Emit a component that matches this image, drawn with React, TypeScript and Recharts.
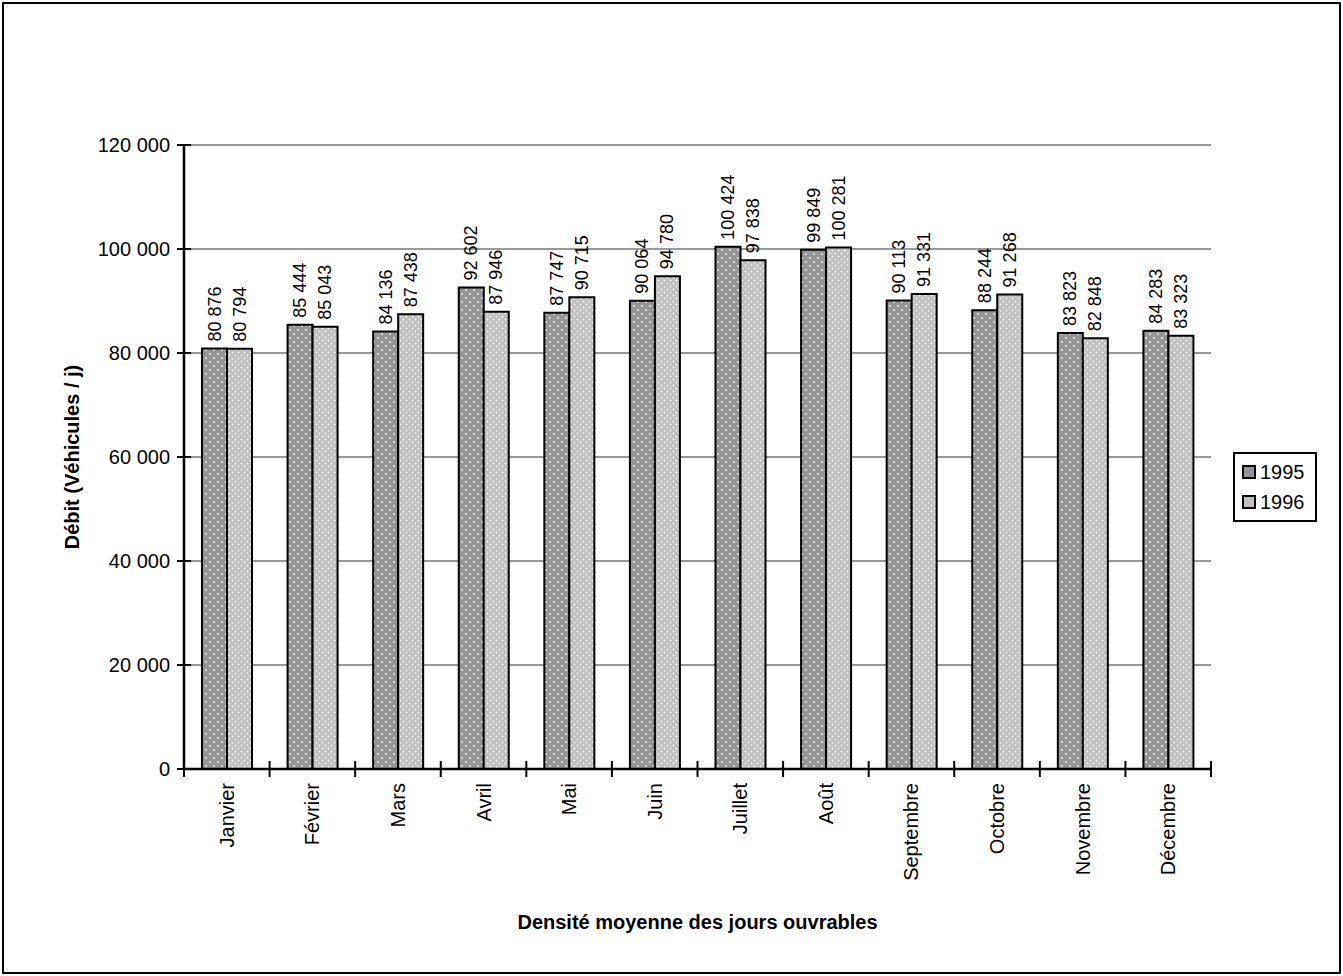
import React from "react";
import { BarChart, Bar, XAxis, YAxis, CartesianGrid, LabelList, Legend } from "recharts";

// Débit moyen des jours ouvrables, par mois
const months = [
  "Janvier",
  "Février",
  "Mars",
  "Avril",
  "Mai",
  "Juin",
  "Juillet",
  "Août",
  "Septembre",
  "Octobre",
  "Novembre",
  "Décembre",
];
const debit1995 = [80876, 85444, 84136, 92602, 87747, 90064, 100424, 99849, 90113, 88244, 83823, 84283];
const debit1996 = [80794, 85043, 87438, 87946, 90715, 94780, 97838, 100281, 91331, 91268, 82848, 83323];
const yTicks = [0, 20000, 40000, 60000, 80000, 100000, 120000];

const data = months.map((m, i) => ({ month: m, y1995: debit1995[i], y1996: debit1996[i] }));

const FONT = "'Liberation Sans', Arial, sans-serif";
const W = 1343;
const H = 976;
const MARGIN = { top: 145, right: 132, left: 0, bottom: 0 };
const Y_WIDTH = 184;
const X_HEIGHT = 207;
const BAND = (W - MARGIN.right - Y_WIDTH) / months.length;

// 80876 -> "80 876"
const fmt = (n: number) => String(n).replace(/\B(?=(\d{3})+(?!\d))/g, " ");

const XTick = (props: any) => {
  const { x, y, payload, index } = props;
  const left = x - BAND / 2;
  const right = x + BAND / 2;
  return (
    <g>
      <line x1={left} x2={left} y1={y - 8} y2={y + 8} stroke="#000" strokeWidth={2} />
      {index === months.length - 1 && (
        <line x1={right} x2={right} y1={y - 8} y2={y + 8} stroke="#000" strokeWidth={2} />
      )}
      <text
        transform={`translate(${x},${y + 14}) rotate(-90)`}
        textAnchor="end"
        dominantBaseline="central"
        fontSize={20}
        fontFamily={FONT}
        fill="#000"
      >
        {payload.value}
      </text>
    </g>
  );
};

const YTick = (props: any) => {
  const { x, y, payload } = props;
  return (
    <g>
      <line x1={x - 7} x2={x + 7} y1={y} y2={y} stroke="#000" strokeWidth={2} />
      <text
        x={x - 14}
        y={y}
        textAnchor="end"
        dominantBaseline="central"
        fontSize={20}
        fontFamily={FONT}
        fill="#000"
      >
        {fmt(payload.value)}
      </text>
    </g>
  );
};

const ValueLabel = (props: any) => {
  const { x, y, width, value } = props;
  const cx = x + width / 2;
  return (
    <text
      transform={`translate(${cx},${y - 7}) rotate(-90)`}
      textAnchor="start"
      dominantBaseline="central"
      fontSize={18}
      fontFamily={FONT}
      fill="#000"
    >
      {fmt(value)}
    </text>
  );
};

const legendItems = [
  { name: "1995", fill: "#969696" },
  { name: "1996", fill: "#c0c0c0" },
];

const LegendBox = () => (
  <div
    style={{
      border: "2px solid #000",
      background: "#fff",
      padding: "3px 10px 3px 7px",
      fontFamily: FONT,
      fontSize: 20,
      lineHeight: "30px",
    }}
  >
    {legendItems.map((it) => (
      <div key={it.name} style={{ display: "flex", alignItems: "center" }}>
        <span
          style={{
            display: "inline-block",
            width: 10,
            height: 10,
            border: "2px solid #000",
            background: it.fill,
            marginRight: 4,
          }}
        />
        {it.name}
      </div>
    ))}
  </div>
);

const App: React.FC = () => {
  return (
    <div style={{ position: "absolute", left: 0, top: 0, width: W, height: H, background: "#fff" }}>
      <BarChart width={W} height={H} data={data} margin={MARGIN} barGap={0} barSize={25}>
        <defs>
          <pattern id="dots1995" width="8" height="8" patternUnits="userSpaceOnUse">
            <rect width="8" height="8" fill="#969696" />
            <circle cx="2" cy="2" r="1" fill="#e8e8e8" />
            <circle cx="6" cy="6" r="1" fill="#e8e8e8" />
          </pattern>
          <pattern id="dots1996" width="6" height="6" patternUnits="userSpaceOnUse">
            <rect width="6" height="6" fill="#c0c0c0" />
            <circle cx="1.5" cy="1.5" r="0.9" fill="#f4f4f4" />
            <circle cx="4.5" cy="4.5" r="0.9" fill="#f4f4f4" />
          </pattern>
        </defs>
        <CartesianGrid vertical={false} stroke="#333" strokeWidth={1} />
        <XAxis
          dataKey="month"
          interval={0}
          height={X_HEIGHT}
          tickLine={false}
          tickSize={0}
          tickMargin={0}
          axisLine={{ stroke: "#000", strokeWidth: 2.5 }}
          tick={<XTick />}
          label={{
            value: "Densité moyenne des jours ouvrables",
            position: "insideTop",
            offset: 146,
            style: { fontFamily: FONT, fontSize: 20, fontWeight: "bold", fill: "#000" },
          }}
        />
        <YAxis
          width={Y_WIDTH}
          domain={[0, 120000]}
          ticks={yTicks}
          interval={0}
          tickLine={false}
          tickSize={0}
          tickMargin={0}
          axisLine={{ stroke: "#000", strokeWidth: 2.5 }}
          tick={<YTick />}
          label={{
            value: "Débit (Véhicules / j)",
            angle: -90,
            position: "insideLeft",
            offset: 72,
            style: { textAnchor: "middle", fontFamily: FONT, fontSize: 20, fontWeight: "bold", fill: "#000" },
          }}
        />
        <Legend
          layout="horizontal"
          verticalAlign="middle"
          align="center"
          wrapperStyle={{ left: 1233, top: 452, width: "auto" }}
          content={<LegendBox />}
        />
        <Bar dataKey="y1995" name="1995" fill="url(#dots1995)" stroke="#000" strokeWidth={2} isAnimationActive={false}>
          <LabelList dataKey="y1995" content={<ValueLabel />} />
        </Bar>
        <Bar dataKey="y1996" name="1996" fill="url(#dots1996)" stroke="#000" strokeWidth={2} isAnimationActive={false}>
          <LabelList dataKey="y1996" content={<ValueLabel />} />
        </Bar>
      </BarChart>
      <div
        style={{
          position: "absolute",
          left: 2,
          top: 2,
          width: W - 4,
          height: H - 4,
          boxSizing: "border-box",
          border: "2px solid #000",
          pointerEvents: "none",
        }}
      />
    </div>
  );
};

export default App;
